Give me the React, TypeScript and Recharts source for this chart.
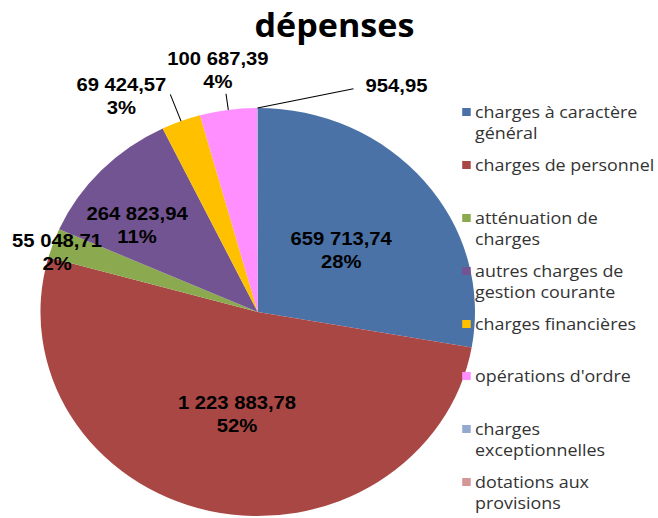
import { PieChart, Pie, Cell, Legend } from "recharts";

// categories and values (euros)
const categories = [
  "charges à caractère général",
  "charges de personnel",
  "atténuation de charges",
  "autres charges de gestion courante",
  "charges financières",
  "opérations d'ordre",
  "charges exceptionnelles",
  "dotations aux provisions",
];
const amounts = [659713.74, 1223883.78, 55048.71, 264823.94, 69424.57, 100687.39, 954.95, 0];
const colors = ["#4A72A7", "#A94745", "#8BA94F", "#735492", "#FFC000", "#FF8EFF", "#93A9CF", "#D49796"];

// label placement per slice: radius factor, angle shift, optional leader line, show percent
const labelPlacement = [
  { k: 0.49, rot: -1.6, pct: true },
  { k: 0.51, rot: 2, pct: true },
  { k: 0.97, rot: 2, pct: true },
  { k: 0.7, rot: 6.5, pct: true },
  { k: 1.23, rot: 10, pct: true, line: [1.0, 1.14, 0] },
  { k: 1.2, rot: 1, pct: true, line: [1.0, 1.08, 0] },
  { k: 1.28, rot: -30, pct: false, line: [1.0, 1.18, -22] },
  null,
];

const data = categories.map((name, i) => ({ name, value: amounts[i] }));

const SX = 1.065;
const W = Math.round(658 / SX);
const H = 518;
const RAD = Math.PI / 180;

function frNumber(v: number): string {
  const [int, dec] = v.toFixed(2).split(".");
  return int.replace(/\B(?=(\d{3})+(?!\d))/g, " ") + "," + dec;
}

function renderLabel(props: any) {
  const { cx, cy, midAngle, outerRadius, percent, index, value } = props;
  const p = labelPlacement[index];
  if (!p) return null;
  const a = (midAngle + p.rot) * RAD;
  const x = cx + outerRadius * p.k * Math.cos(a);
  const y = cy - outerRadius * p.k * Math.sin(a);
  const textStyle = {
    fontFamily: "'Liberation Sans', Arial, sans-serif",
    fontWeight: 700,
    fontSize: 19,
    fill: "#000",
  };
  let line = null;
  if (p.line) {
    const [r0, r1, shift] = p.line;
    const a0 = midAngle * RAD;
    const a1 = (midAngle + shift) * RAD;
    line = (
      <line
        x1={cx + outerRadius * r0 * Math.cos(a0)}
        y1={cy - outerRadius * r0 * Math.sin(a0)}
        x2={cx + outerRadius * r1 * Math.cos(a1)}
        y2={cy - outerRadius * r1 * Math.sin(a1)}
        stroke="#000"
        strokeWidth={1}
      />
    );
  }
  return (
    <g key={`lbl-${index}`}>
      {line}
      {p.pct ? (
        <>
          <text x={x} y={y - 11.5} textAnchor="middle" dominantBaseline="central" style={textStyle}>
            {frNumber(value)}
          </text>
          <text x={x} y={y + 11.5} textAnchor="middle" dominantBaseline="central" style={textStyle}>
            {Math.round(percent * 100)}%
          </text>
        </>
      ) : (
        <text x={x} y={y} textAnchor="middle" dominantBaseline="central" style={textStyle}>
          {frNumber(value)}
        </text>
      )}
    </g>
  );
}

function LegendBox() {
  return (
    <div style={{ fontFamily: "'Open Sans', sans-serif", fontSize: 16.8, color: "#333", width: 184 }}>
      {data.map((d, i) => (
        <div key={d.name} style={{ position: "relative", height: 52.9, paddingLeft: 12, lineHeight: "21px" }}>
          <span
            style={{
              position: "absolute",
              left: 0,
              top: 7,
              width: 8,
              height: 8,
              background: colors[i],
            }}
          />
          {d.name}
        </div>
      ))}
    </div>
  );
}

export default function App() {
  return (
    <div style={{ position: "absolute", left: 0, top: 0, width: 658, height: H, overflow: "hidden", background: "#fff" }}>
      <div style={{ position: "absolute", left: 0, top: 0, width: W, height: H, transform: `scaleX(${SX})`, transformOrigin: "0 0" }}>
        <div
          style={{
            position: "absolute",
            left: 5,
            top: 5,
            width: W,
            textAlign: "center",
            fontFamily: "'Open Sans', sans-serif",
            fontWeight: 700,
            fontSize: 32,
            lineHeight: "40px",
            color: "#000",
          }}
        >
          dépenses
        </div>
        <PieChart width={W} height={H} margin={{ top: 0, right: 0, bottom: 0, left: 0 }}>
          <Pie
            data={data}
            dataKey="value"
            nameKey="name"
            cx={242}
            cy={312}
            outerRadius={204}
            startAngle={90}
            endAngle={-270}
            stroke="none"
            label={renderLabel}
            labelLine={false}
            isAnimationActive={false}
          >
            {data.map((d, i) => (
              <Cell key={d.name} fill={colors[i]} />
            ))}
          </Pie>
          <Legend
            layout="vertical"
            verticalAlign="top"
            align="right"
            content={() => <LegendBox />}
            wrapperStyle={{ position: "absolute", left: 434, top: 101, width: 184 }}
          />
        </PieChart>
      </div>
    </div>
  );
}
